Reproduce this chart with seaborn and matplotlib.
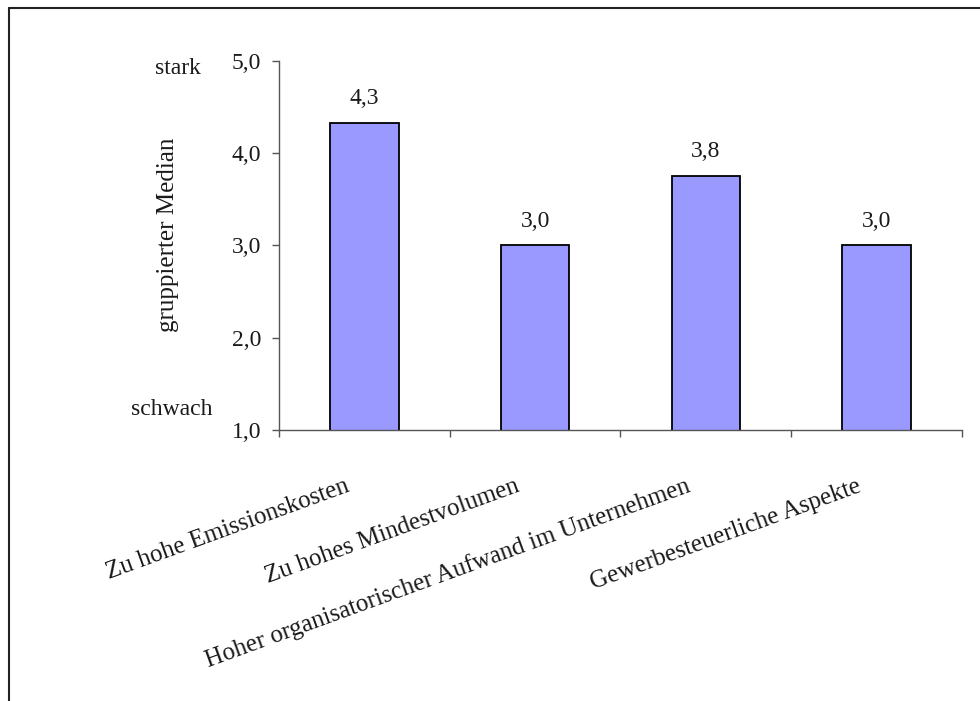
import matplotlib
matplotlib.use("Agg")
import matplotlib.pyplot as plt
import matplotlib.transforms as mtransforms
from matplotlib.lines import Line2D
import seaborn as sns
import pandas as pd

categories = [
    "Zu hohe Emissionskosten",
    "Zu hohes Mindestvolumen",
    "Hoher organisatorischer Aufwand im Unternehmen",
    "Gewerbesteuerliche Aspekte",
]
medians = [4.33, 3.0, 3.75, 3.0]
y_ticks = [1.0, 2.0, 3.0, 4.0, 5.0]
y_ticklabels = ["1,0", "2,0", "3,0", "4,0", "5,0"]

sns.set_theme(style="white")
plt.rcParams["font.family"] = ["Liberation Serif", "DejaVu Serif"]

FS = 17
FS_CAT = 18
TXT = "#1a1a1a"
AXC = "#555555"

df = pd.DataFrame({"Kategorie": categories, "Median": medians})

fig = plt.figure(figsize=(9.8, 7.01), dpi=100)
ax = fig.add_axes([0.2847, 0.3866, 0.6969, 0.5264])

sns.barplot(data=df, x="Kategorie", y="Median", color="#9999FF", saturation=1,
            width=0.4, edgecolor="black", linewidth=1.3, ax=ax)

ax.set_ylim(1.0, 5.0)
ax.set_xlim(-0.5, len(categories) - 0.5)
ax.set_yticks(y_ticks)
ax.set_yticklabels(y_ticklabels, fontsize=FS, color=TXT)

# value labels above the bars, one decimal with a comma
for i, v in enumerate(medians):
    ax.annotate(f"{v:.1f}".replace(".", ","), xy=(i, v), xytext=(0, 10),
                textcoords="offset points", ha="center", va="bottom",
                fontsize=FS, color=TXT)

# category ticks sit on the boundaries between the bars
ax.set_xticks([i - 0.5 for i in range(len(categories) + 1)])
ax.set_xticklabels([])
ax.tick_params(axis="x", direction="out", length=5, width=1, color=AXC,
               bottom=True)
ax.tick_params(axis="y", direction="out", length=5, width=1,
               color=AXC, left=True, pad=8)

# slanted category names, ending just left of each bar's centre
cat_trans = (mtransforms.blended_transform_factory(ax.transData, ax.transAxes)
             + mtransforms.ScaledTranslation(-20 / 100, -45 / 100,
                                             fig.dpi_scale_trans))
for i, name in enumerate(categories):
    ax.text(i, 0, name, transform=cat_trans, rotation=20, ha="right",
            va="top", rotation_mode="anchor", fontsize=FS_CAT, color=TXT)

for side in ("top", "right"):
    ax.spines[side].set_visible(False)
for side in ("left", "bottom"):
    ax.spines[side].set_color(AXC)
    ax.spines[side].set_linewidth(1)

ax.set_xlabel("")
ax.set_ylabel("")

fig.text(0.171, 1 - 235 / 701, "gruppierter Median", rotation=90, ha="center",
         va="center", fontsize=FS_CAT, color=TXT)

trans = mtransforms.blended_transform_factory(fig.transFigure, ax.transData)
ax.text(178 / 980, 4.92, "stark", transform=trans, ha="center", va="center",
        fontsize=FS, color=TXT)
ax.text(172 / 980, 1.22, "schwach", transform=trans, ha="center", va="center",
        fontsize=FS, color=TXT)

# frame lines along the top and left edge of the figure
fig.add_artist(Line2D([9 / 980, 9 / 980], [0, 1 - 8 / 701], color="#222222",
                      linewidth=1.5, transform=fig.transFigure))
fig.add_artist(Line2D([9 / 980, 1], [1 - 8 / 701, 1 - 8 / 701], color="#222222",
                      linewidth=1.5, transform=fig.transFigure))

fig.savefig("out.png", dpi=100, facecolor="white")
